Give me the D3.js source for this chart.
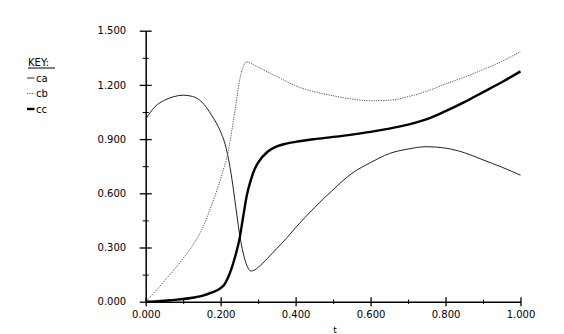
<!DOCTYPE html>
<html>
<head>
<meta charset="utf-8">
<script src="https://cdn.jsdelivr.net/npm/d3@7"></script>
<style>
  body { margin: 0; background: #fff; }
  svg { display: block; font-family: "DejaVu Sans", sans-serif; }
</style>
</head>
<body>
<div id="chart"></div>
<script>
// data
var tValues = [0, 0.025, 0.05, 0.075, 0.1, 0.125, 0.15, 0.175, 0.2, 0.21, 0.22, 0.23, 0.24, 0.25,
  0.26, 0.27, 0.28, 0.29, 0.3, 0.325, 0.35, 0.375, 0.4, 0.45, 0.5, 0.55, 0.6, 0.65, 0.7, 0.75,
  0.8, 0.85, 0.9, 0.95, 1.0];

var caValues = [1.01, 1.08, 1.115, 1.135, 1.143, 1.136, 1.105, 1.035, 0.94, 0.885, 0.80, 0.68, 0.53, 0.38,
  0.27, 0.20, 0.17, 0.175, 0.19, 0.24, 0.295, 0.35, 0.41, 0.52, 0.62, 0.71, 0.77, 0.82, 0.845, 0.858,
  0.85, 0.825, 0.785, 0.745, 0.70];

var cbValues = [0, 0.055, 0.115, 0.175, 0.24, 0.31, 0.40, 0.53, 0.68, 0.75, 0.83, 0.95, 1.08, 1.22,
  1.30, 1.328, 1.32, 1.309, 1.299, 1.272, 1.246, 1.22, 1.195, 1.162, 1.14, 1.122, 1.112, 1.115, 1.135, 1.165,
  1.205, 1.243, 1.285, 1.33, 1.385];

var ccValues = [0, 0.002, 0.005, 0.01, 0.015, 0.022, 0.032, 0.05, 0.075, 0.095, 0.135, 0.19, 0.26, 0.345,
  0.47, 0.59, 0.67, 0.73, 0.77, 0.83, 0.86, 0.875, 0.885, 0.9, 0.912, 0.925, 0.94, 0.958, 0.98, 1.01,
  1.055, 1.105, 1.16, 1.215, 1.275];

var seriesNames = ["ca", "cb", "cc"];
var xTicks = [0, 0.2, 0.4, 0.6, 0.8, 1.0];
var xMinorTicks = [0.1, 0.3, 0.5, 0.7, 0.9];
var yTicks = [0, 0.3, 0.6, 0.9, 1.2, 1.5];
var yMinorTicks = [0.15, 0.45, 0.75, 1.05, 1.35];

var svgWidth = 564;
var svgHeight = 334;

var margin = { top: 30.7, right: 43.5, bottom: 32.3, left: 145.7 };
var width = svgWidth - margin.left - margin.right;
var height = svgHeight - margin.top - margin.bottom;

var svg = d3.select("#chart")
  .append("svg")
  .attr("width", svgWidth)
  .attr("height", svgHeight);

var chartGroup = svg.append("g")
  .attr("transform", `translate(${margin.left}, ${margin.top})`);

var xScale = d3.scaleLinear().domain([0, 1]).range([0, width]);
var yScale = d3.scaleLinear().domain([0, 1.5]).range([height, 0]);
var fmt = d3.format(".3f");

// x axis (major + minor ticks crossing the line)
var xAxisG = chartGroup.append("g")
  .attr("transform", `translate(0, ${height})`)
  .call(d3.axisBottom(xScale).tickValues(xTicks).tickFormat(fmt).tickSizeOuter(0));
xAxisG.selectAll(".tick line").attr("y1", -4.5).attr("y2", 4.5).attr("stroke-width", 1.3);
xAxisG.selectAll(".tick text").attr("y", 9).attr("font-size", 10).attr("font-family", "DejaVu Sans");
xAxisG.select(".domain").attr("stroke-width", 1.5);

var xMinorG = chartGroup.append("g")
  .attr("transform", `translate(0, ${height})`)
  .call(d3.axisBottom(xScale).tickValues(xMinorTicks).tickFormat("").tickSizeOuter(0));
xMinorG.select(".domain").remove();
xMinorG.selectAll(".tick line").attr("y1", -2.3).attr("y2", 2.3);

// y axis
var yAxisG = chartGroup.append("g")
  .call(d3.axisLeft(yScale).tickValues(yTicks).tickFormat(fmt).tickSizeOuter(0));
yAxisG.selectAll(".tick line").attr("x1", -6).attr("x2", 6).attr("stroke-width", 1.3);
yAxisG.selectAll(".tick text").attr("x", -19.5).attr("font-size", 10).attr("font-family", "DejaVu Sans");
yAxisG.select(".domain").attr("stroke-width", 1.5);

var yMinorG = chartGroup.append("g")
  .call(d3.axisLeft(yScale).tickValues(yMinorTicks).tickFormat("").tickSizeOuter(0));
yMinorG.select(".domain").remove();
yMinorG.selectAll(".tick line").attr("x1", -3).attr("x2", 3);

// axis title
chartGroup.append("text")
  .attr("x", width / 2 + 2)
  .attr("y", height + 31.5)
  .attr("font-size", 9)
  .attr("text-anchor", "middle")
  .text("t");

// lines
var line = d3.line()
  .x(d => xScale(d[0]))
  .y(d => yScale(d[1]))
  .curve(d3.curveMonotoneX);

var styles = {
  ca: { stroke: "#222", width: 1, dash: null },
  cb: { stroke: "#555", width: 1, dash: "1.2,1.2" },
  cc: { stroke: "#000", width: 2.4, dash: null }
};
var allValues = { ca: caValues, cb: cbValues, cc: ccValues };

seriesNames.forEach(name => {
  var pts = tValues.map((t, i) => [t, allValues[name][i]]);
  chartGroup.append("path")
    .datum(pts)
    .attr("fill", "none")
    .attr("stroke", styles[name].stroke)
    .attr("stroke-width", styles[name].width)
    .attr("stroke-dasharray", styles[name].dash)
    .attr("d", line);
});

// legend
var legend = svg.append("g");
legend.append("text")
  .attr("x", 28)
  .attr("y", 66)
  .attr("font-size", 10)
  .text("KEY:");
legend.append("line")
  .attr("x1", 28).attr("x2", 55)
  .attr("y1", 68).attr("y2", 68)
  .attr("stroke", "#000").attr("stroke-width", 1);

seriesNames.forEach((name, i) => {
  var y = 78 + i * 15.5;
  legend.append("line")
    .attr("x1", 27).attr("x2", 34.5)
    .attr("y1", y).attr("y2", y)
    .attr("stroke", styles[name].stroke)
    .attr("stroke-width", name === "cc" ? 2.4 : 1)
    .attr("stroke-dasharray", styles[name].dash);
  legend.append("text")
    .attr("x", 36)
    .attr("y", y + 3.5)
    .attr("font-size", 10)
    .text(name);
});
</script>
</body>
</html>
